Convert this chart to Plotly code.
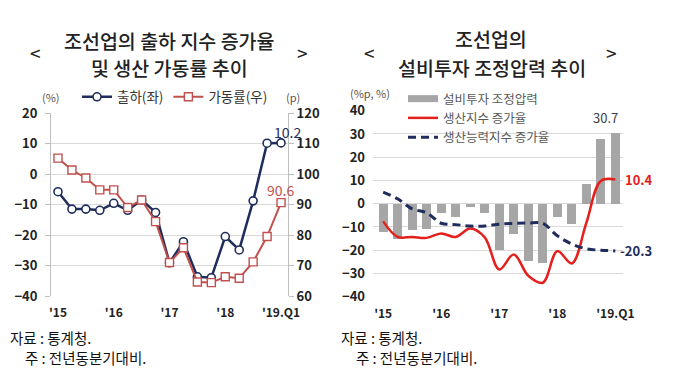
import plotly.graph_objects as go

# ---------------- data ----------------
quarters = list(range(17))  # 2015Q1 ... 2019Q1
tick_pos = [0, 4, 8, 12, 16]
tick_text = ["'15", "'16", "'17", "'18", "'19.Q1"]

# left chart
shipment = [-5.8, -11.5, -11.5, -11.9, -9.6, -11.9, -8.5, -12.6, -29.1, -22.2,
            -33.7, -34.0, -20.5, -24.9, -8.8, 10.1, 10.2]
utilization = [105.2, 101.3, 98.7, 94.8, 94.8, 89.0, 91.5, 84.4, 71.0, 75.8,
               64.6, 64.4, 66.3, 65.8, 71.2, 79.5, 90.6]

# right chart
pressure = [-12.1, -15.1, -11.0, -10.7, -4.0, -5.4, -1.1, -3.8, -19.8, -12.9,
            -24.4, -25.2, -5.8, -8.6, 8.4, 28.0, 30.7]
production = [-7.6, -14.3, -14.3, -14.7, -12.8, -14.3, -10.7, -14.5, -28.3, -21.8,
              -31.0, -34.0, -20.4, -25.7, -8.3, 9.8, 10.4]
capacity = [5.0, 2.1, -2.2, -3.9, -8.4, -9.0, -9.6, -9.6, -8.8, -8.5,
            -8.3, -8.4, -13.8, -17.3, -19.4, -20.0, -20.3]

# ---------------- styling ----------------
W, H = 680, 390
OFF = 8  # default page body margin offsets the figure
FONT = "Noto Sans CJK KR, Noto Sans, sans-serif"
NAVY = "#1f2d5c"
RED_L = "#c0504d"
RED_R = "#e3201c"
GRAY_BAR = "#a6a6a6"
GRID = "#d9d9d9"
AXIS = "#bfbfbf"


def px(x):
    return (x - OFF) / W


def py(y):
    return 1 - (y - OFF) / H


L_DOM = [px(51), px(288)]
L_YDOM = [py(296), py(113)]
R_DOM = [px(373), px(622.6)]
R_YDOM = [py(296.7), py(110.7)]

fig = go.Figure()

# left chart traces
fig.add_trace(go.Scatter(
    x=quarters, y=shipment, name="출하(좌)", mode="lines+markers",
    line=dict(color=NAVY, width=2.5),
    marker=dict(symbol="circle", size=8, color="white", line=dict(color=NAVY, width=1.6)),
    xaxis="x", yaxis="y", legend="legend"))
fig.add_trace(go.Scatter(
    x=quarters, y=utilization, name="가동률(우)", mode="lines+markers",
    line=dict(color=RED_L, width=2),
    marker=dict(symbol="square", size=8, color="white", line=dict(color=RED_L, width=1.4)),
    xaxis="x", yaxis="y2", legend="legend"))

# right chart traces
fig.add_trace(go.Bar(
    x=quarters, y=pressure, name="설비투자 조정압력", marker=dict(color=GRAY_BAR, line=dict(width=0)),
    width=0.64, xaxis="x2", yaxis="y3", showlegend=False))
fig.add_trace(go.Scatter(
    x=[None], y=[None], name="설비투자 조정압력", mode="lines",
    line=dict(color=GRAY_BAR, width=7), xaxis="x2", yaxis="y3", legend="legend2"))
fig.add_trace(go.Scatter(
    x=quarters, y=production, name="생산지수 증가율", mode="lines",
    line=dict(color=RED_R, width=2.5, shape="spline", smoothing=1.0),
    xaxis="x2", yaxis="y3", legend="legend2"))
fig.add_trace(go.Scatter(
    x=quarters, y=capacity, name="생산능력지수 증가율", mode="lines",
    line=dict(color=NAVY, width=3, dash="8px,5px", shape="spline", smoothing=1.0),
    xaxis="x2", yaxis="y3", legend="legend2"))

tickfont = dict(family=FONT, size=13, color="#222222", weight="bold")
xtickfont = dict(family=FONT, size=12, color="#222222", weight="bold")

zero_pos = L_YDOM[0] + (L_YDOM[1] - L_YDOM[0]) * (40 / 60)

annotations = []


def ann(x, y, text, size=13, color="#222222", xanchor="center", weight="normal", **kw):
    annotations.append(dict(
        x=px(x), y=py(y), xref="paper", yref="paper", text=text, showarrow=False,
        xanchor=xanchor, yanchor="middle",
        font=dict(family=FONT, size=size, color=color, weight=weight), **kw))


# titles
ann(35, 52, "<", size=19)
ann(302, 52, ">", size=19)
ann(169, 40, "조선업의 출하 지수 증가율", size=19.5, weight=500)
ann(169, 67, "및 생산 가동률 추이", size=19.5, weight=500)
ann(369, 52, "<", size=19)
ann(611, 52, ">", size=19)
ann(491, 39, "조선업의", size=19.5, weight=500)
ann(492, 67, "설비투자 조정압력 추이", size=19.5, weight=500)

# units
ann(51, 97, "(%)", size=11, color="#555555")
ann(293, 97, "(p)", size=11, color="#555555")
ann(370, 93, "(%p, %)", size=11, color="#555555")

# footers
for x0 in (8, 339):
    ann(x0, 337, "자료 : 통계청.", size=14.5, color="#111111", xanchor="left")
    ann(x0 + 15, 357, "주 : 전년동분기대비.", size=14.5, color="#111111", xanchor="left")

# data labels
annotations.append(dict(x=quarters[-1], y=shipment[-1], xref="x", yref="y",
                        text=f"{shipment[-1]:.1f}", showarrow=False, xshift=6, yshift=11,
                        font=dict(family=FONT, size=14, color=NAVY)))
annotations.append(dict(x=quarters[-1], y=utilization[-1], xref="x", yref="y2",
                        text=f"{utilization[-1]:.1f}", showarrow=False, xshift=-1, yshift=13,
                        font=dict(family=FONT, size=14, color=RED_L)))
annotations.append(dict(x=quarters[-1], y=pressure[-1], xref="x2", yref="y3",
                        text=f"{pressure[-1]:.1f}", showarrow=False, xshift=-10, yshift=15,
                        font=dict(family=FONT, size=13, color="#404040")))
annotations.append(dict(x=quarters[-1], y=production[-1], xref="x2", yref="y3",
                        text=f"{production[-1]:.1f}", showarrow=False, xanchor="left", xshift=8,
                        font=dict(family=FONT, size=13, color=RED_R, weight="bold")))
annotations.append(dict(x=quarters[-1], y=capacity[-1], xref="x2", yref="y3",
                        text=f"{capacity[-1]:.1f}", showarrow=False, xanchor="left", xshift=3,
                        font=dict(family=FONT, size=13, color=NAVY, weight="bold")))

fig.update_layout(
    template="none",
    width=W, height=H, margin=dict(l=0, r=0, t=0, b=0, autoexpand=False),
    paper_bgcolor="white", plot_bgcolor="white",
    font=dict(family=FONT),
    showlegend=True,
    bargap=0,
    xaxis=dict(domain=L_DOM, anchor="y", range=[-0.5, 16.5], tickvals=tick_pos, ticktext=tick_text,
               showgrid=False, zeroline=False, showline=False, ticks="", tickfont=xtickfont,
               ticklabelstandoff=8, automargin=False),
    xaxis3=dict(overlaying="x", anchor="free", position=zero_pos, range=[-0.5, 16.5],
                tickvals=[i - 0.5 for i in range(18)], showticklabels=False, ticks="outside",
                ticklen=4, tickcolor="#a6a6a6", showline=True, linecolor="#a6a6a6", linewidth=1,
                showgrid=False, zeroline=False, automargin=False),
    yaxis=dict(domain=L_YDOM, anchor="x", range=[-40, 20], dtick=10, showgrid=True, gridcolor=GRID,
               zeroline=False, showline=True, linecolor=AXIS, ticks="outside", ticklen=5,
               tickcolor=AXIS, tickfont=tickfont, ticklabelstandoff=5, automargin=False),
    yaxis2=dict(overlaying="y", side="right", anchor="x", range=[60, 120], dtick=10, showgrid=False,
                zeroline=False, showline=True, linecolor=AXIS, ticks="outside", ticklen=5,
                tickcolor=AXIS, tickfont=tickfont, automargin=False),
    xaxis2=dict(domain=R_DOM, anchor="y3", range=[-0.7, 16.5], tickvals=tick_pos, ticktext=tick_text,
                showgrid=False, zeroline=False, showline=False, ticks="", tickfont=xtickfont,
                ticklabelstandoff=8, automargin=False),
    yaxis3=dict(domain=R_YDOM, anchor="x2", range=[-40, 40], dtick=10, showgrid=True, gridcolor=GRID,
                zeroline=False, showline=False, ticks="", tickfont=tickfont, ticklabelstandoff=7,
                automargin=False),
    legend=dict(orientation="h", x=px(77), y=py(97), xanchor="left", yanchor="middle",
                font=dict(family=FONT, size=13.5, color="#333333"), bgcolor="rgba(0,0,0,0)",
                itemwidth=30, tracegroupgap=0),
    legend2=dict(orientation="v", x=px(403), y=py(84), xanchor="left", yanchor="top",
                 font=dict(family=FONT, size=12.5, color="#595959"), bgcolor="rgba(0,0,0,0)",
                 itemwidth=30, tracegroupgap=0),
    annotations=annotations,
)

fig.write_html("out.html")
